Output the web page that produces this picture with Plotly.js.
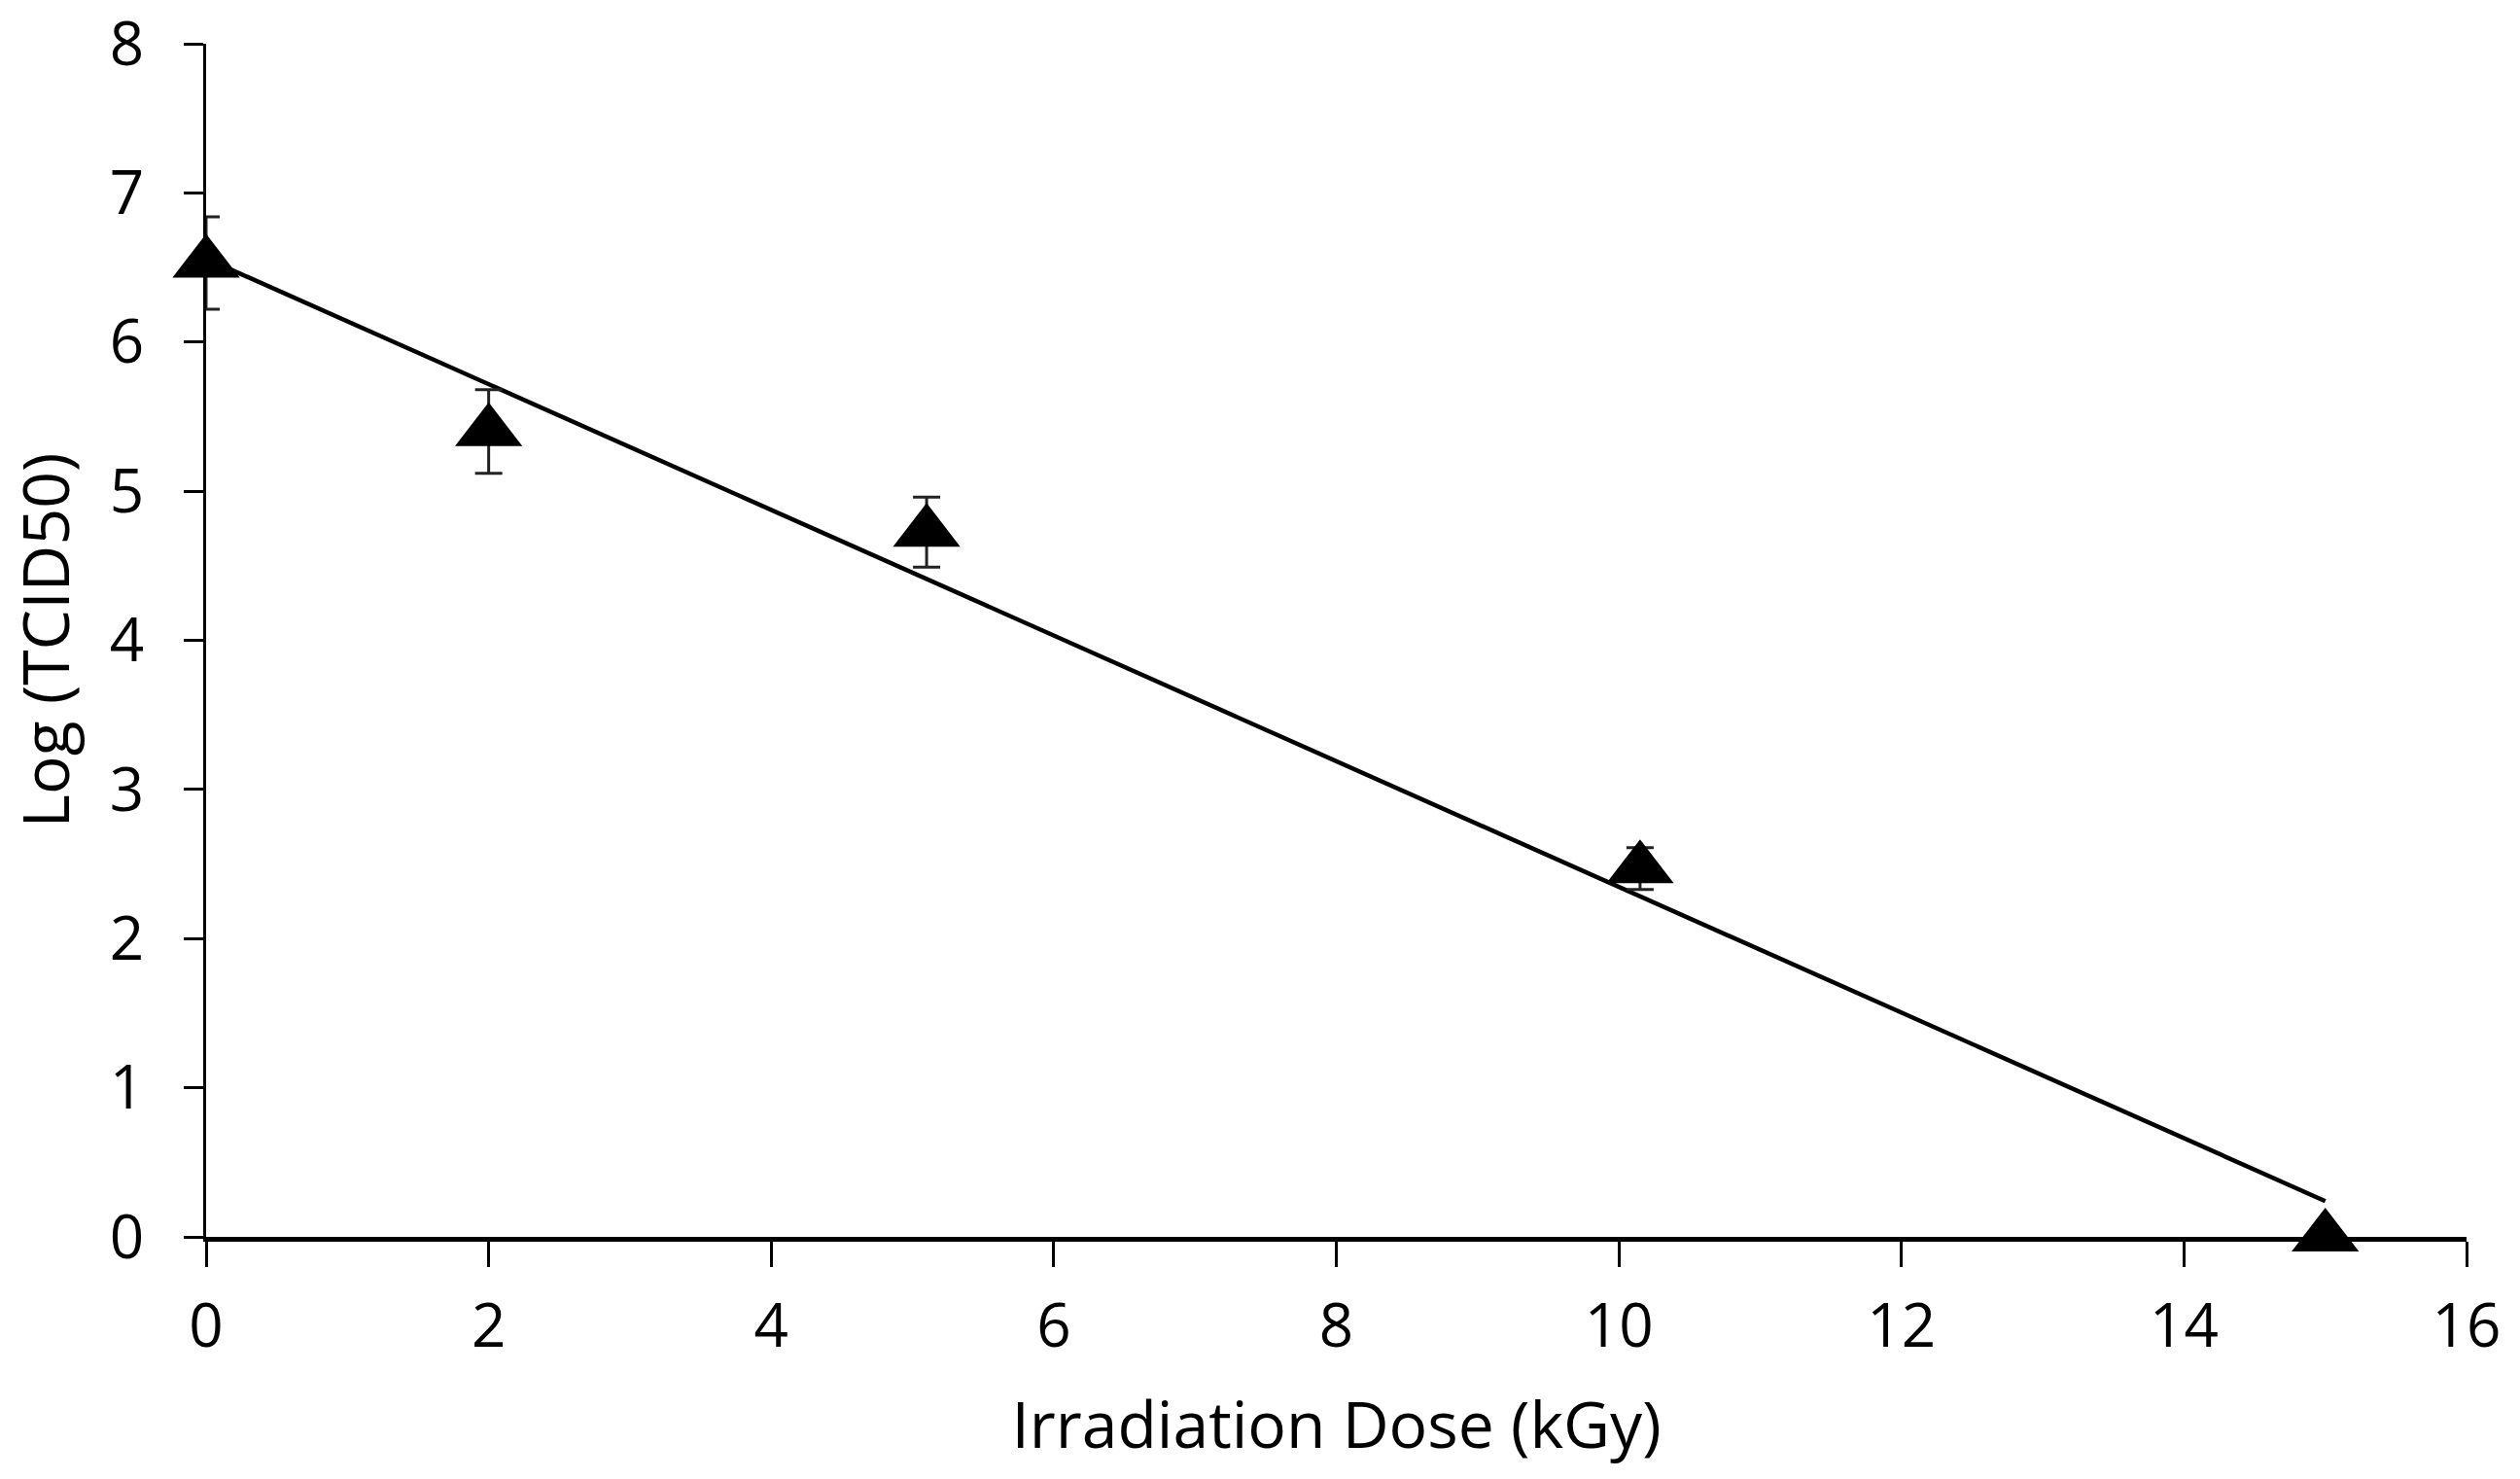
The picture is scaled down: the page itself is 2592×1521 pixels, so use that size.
<!DOCTYPE html>
<html>
<head>
<meta charset="utf-8">
<script src="https://cdn.plot.ly/plotly-3.0.1.min.js"></script>
<style>html,body{margin:0;padding:0;background:#fff;}#chart{width:2592px;height:1521px;}</style>
</head>
<body>
<div id="chart"></div>
<script>
// Data
const doseKGy = [0, 2, 5.1, 10.15, 15];
const logTCID50 = [6.53, 5.40, 4.725, 2.47, 0];
const stdError = [0.31, 0.28, 0.235, 0.14, 0];
const trendDose = [0, 15];
const trendLog = [6.56, 0.24];
const xTicks = [0, 2, 4, 6, 8, 10, 12, 14, 16];
const yTicks = [0, 1, 2, 3, 4, 5, 6, 7, 8];

const traces = [
  {
    x: trendDose, y: trendLog, type: 'scatter', mode: 'lines',
    line: {color: '#000', width: 4.5}, hoverinfo: 'skip', showlegend: false
  },
  {
    x: doseKGy, y: logTCID50, type: 'scatter', mode: 'markers',
    marker: {symbol: 'triangle-up', size: 60, color: '#000'},
    error_y: {type: 'data', array: stdError, visible: true, color: '#222', thickness: 3, width: 14},
    cliponaxis: false, showlegend: false
  }
];

const font = {family: '"Open Sans", sans-serif', color: '#000'};

const layout = {
  width: 2592, height: 1521,
  margin: {l: 212, r: 55, t: 45, b: 249},
  paper_bgcolor: '#fff', plot_bgcolor: '#fff',
  showlegend: false,
  xaxis: {
    range: [0, 16], tickvals: xTicks, ticktext: xTicks.map(String),
    showgrid: false, zeroline: false, showline: true, linecolor: '#000', linewidth: 5,
    ticks: 'outside', ticklen: 26, tickwidth: 3, tickcolor: '#000',
    ticklabelstandoff: 8,
    tickfont: Object.assign({size: 62}, font),
    title: {text: 'Irradiation Dose (kGy)', font: Object.assign({size: 66}, font), standoff: 42},
    automargin: false
  },
  yaxis: {
    range: [0, 8], tickvals: yTicks, ticktext: yTicks.map(String),
    showgrid: false, zeroline: false, showline: true, linecolor: '#000', linewidth: 3.5,
    ticks: 'outside', ticklen: 20, tickwidth: 3, tickcolor: '#000',
    ticklabelstandoff: 28,
    tickfont: Object.assign({size: 62}, font),
    title: {text: 'Log (TCID50)', font: Object.assign({size: 66}, font), standoff: 58},
    automargin: false
  }
};

Plotly.newPlot('chart', traces, layout, {displayModeBar: false, staticPlot: true});
</script>
</body>
</html>
